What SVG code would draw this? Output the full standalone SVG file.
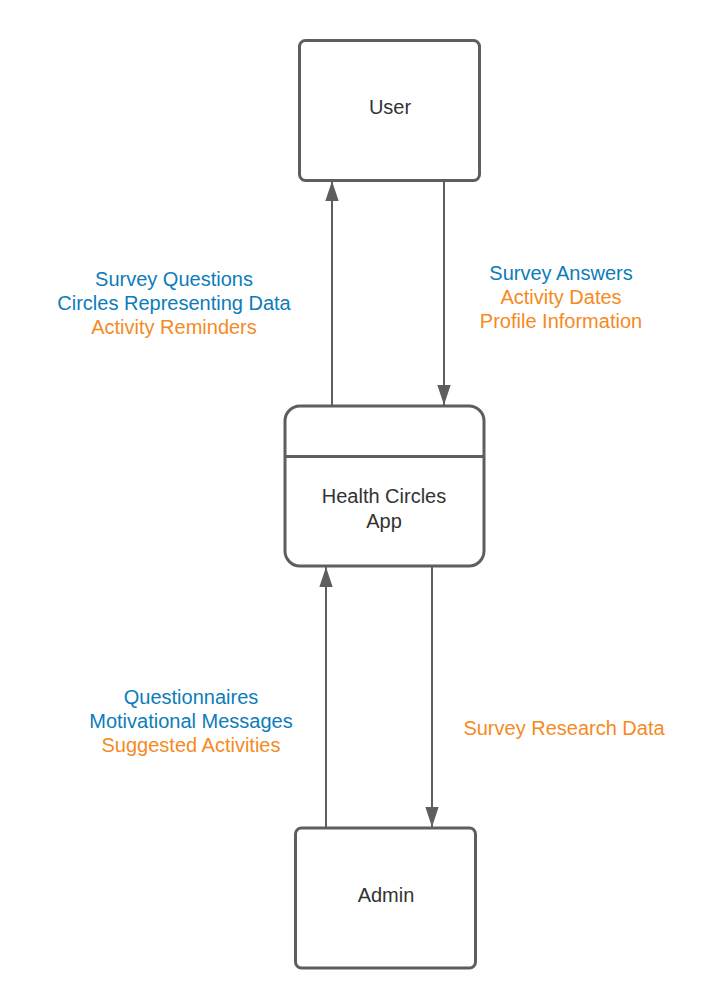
<svg xmlns="http://www.w3.org/2000/svg" width="724" height="1008" viewBox="0 0 724 1008">
<style>
.box{fill:#fff;stroke:#5e5e5e;stroke-width:3}
.ln{stroke:#5e5e5e;stroke-width:2;fill:none}
text{font-family:"Liberation Sans",Arial,sans-serif;font-size:20px;text-anchor:middle}
.lbl{fill:#333}
.b{fill:#0c7cba}
.o{fill:#f58a1f}
</style>
<defs>
<marker id="ah" markerUnits="userSpaceOnUse" markerWidth="20" markerHeight="14" refX="18" refY="6" orient="auto" viewBox="0 0 18 12">
<path d="M0,0 L18,6 L0,12 Z" fill="#5e5e5e"/>
</marker>
</defs>
<rect width="724" height="1008" fill="#fff"/>
<g id="connectors">
<line class="ln" x1="332" y1="406" x2="332" y2="181" marker-end="url(#ah)"/>
<line class="ln" x1="444" y1="181" x2="444" y2="405" marker-end="url(#ah)"/>
<line class="ln" x1="326" y1="828" x2="326" y2="567" marker-end="url(#ah)"/>
<line class="ln" x1="432" y1="567" x2="432" y2="827" marker-end="url(#ah)"/>
<text class="b" x="174" y="286">Survey Questions</text>
<text class="b" x="174" y="310">Circles Representing Data</text>
<text class="o" x="174" y="334">Activity Reminders</text>
<text class="b" x="561" y="280">Survey Answers</text>
<text class="o" x="561" y="304">Activity Dates</text>
<text class="o" x="561" y="328">Profile Information</text>
<text class="b" x="191" y="704">Questionnaires</text>
<text class="b" x="191" y="728">Motivational Messages</text>
<text class="o" x="191" y="752">Suggested Activities</text>
<text class="o" x="564" y="735">Survey Research Data</text>
</g>
<g id="user">
<rect class="box" x="299.5" y="40.5" width="180" height="140" rx="6"/>
<text class="lbl" x="390" y="114">User</text>
</g>
<g id="app">
<rect class="box" x="285" y="406" width="199" height="160" rx="15"/>
<line class="box" x1="285" y1="456.5" x2="484" y2="456.5"/>
<text class="lbl" x="384" y="503">Health Circles</text>
<text class="lbl" x="384" y="528">App</text>
</g>
<g id="admin">
<rect class="box" x="295.5" y="828" width="180" height="140" rx="6"/>
<text class="lbl" x="386" y="902">Admin</text>
</g>
</svg>
